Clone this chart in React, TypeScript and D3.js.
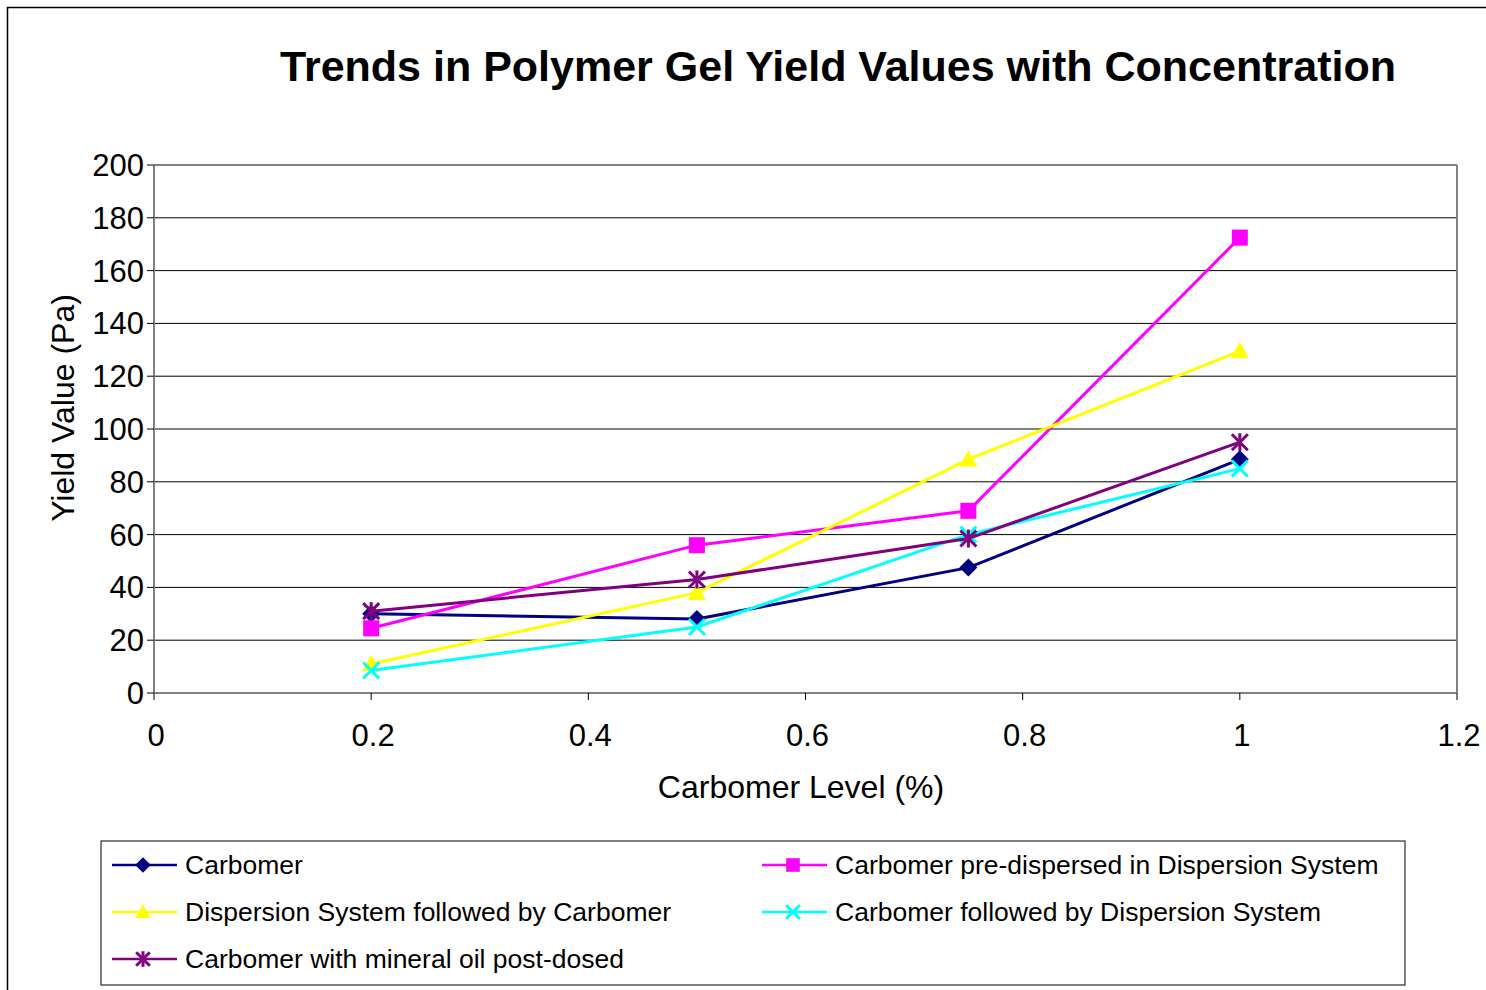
import React from "react";
import * as d3 from "d3";

const xLevels = [0.2, 0.5, 0.75, 1.0];
const carbomer = [30, 28, 47.5, 88.5];
const preDispersed = [24.5, 56, 69, 172.5];
const dispersionThenCarbomer = [11, 38, 88.5, 129.5];
const carbomerThenDispersion = [8.5, 25, 60, 85];
const mineralOil = [31, 43, 58.5, 95];

const xTicks = [0, 0.2, 0.4, 0.6, 0.8, 1, 1.2];
const yTicks = [0, 20, 40, 60, 80, 100, 120, 140, 160, 180, 200];

const seriesNames = [
  "Carbomer",
  "Carbomer pre-dispersed in Dispersion System",
  "Dispersion System followed by Carbomer",
  "Carbomer followed by Dispersion System",
  "Carbomer with mineral oil post-dosed",
];
const seriesValues = [carbomer, preDispersed, dispersionThenCarbomer, carbomerThenDispersion, mineralOil];
const seriesColors = ["#000080", "#FF00FF", "#FFFF00", "#00FFFF", "#800080"];
const seriesMarkers = ["diamond", "square", "triangle", "x", "star"];

const FONT = "Liberation Sans, Arial, Helvetica, sans-serif";

function Marker({ type, x, y, color, s = 1 }: { type: string; x: number; y: number; color: string; s?: number }) {
  const r = 8 * s;
  if (type === "diamond") {
    return <path d={`M${x},${y - r - 1} L${x + r + 1},${y} L${x},${y + r + 1} L${x - r - 1},${y} Z`} fill={color} />;
  }
  if (type === "square") {
    return <rect x={x - r} y={y - r} width={2 * r} height={2 * r} fill={color} />;
  }
  if (type === "triangle") {
    const h = 9 * s;
    return <path d={`M${x},${y - h} L${x + h},${y + h * 0.8} L${x - h},${y + h * 0.8} Z`} fill={color} />;
  }
  if (type === "x") {
    return (
      <g stroke={color} strokeWidth={3}>
        <line x1={x - r} y1={y - r} x2={x + r} y2={y + r} />
        <line x1={x - r} y1={y + r} x2={x + r} y2={y - r} />
      </g>
    );
  }
  return (
    <g stroke={color} strokeWidth={3}>
      <line x1={x - r} y1={y - r} x2={x + r} y2={y + r} />
      <line x1={x - r} y1={y + r} x2={x + r} y2={y - r} />
      <line x1={x} y1={y - r - 1} x2={x} y2={y + r + 1} />
    </g>
  );
}

export default function App() {
  const W = 1486;
  const H = 990;
  const left = 154;
  const right = 1457;
  const top = 165;
  const bottom = 693;
  const x = d3.scaleLinear().domain([0, 1.2]).range([left, right]);
  const y = d3.scaleLinear().domain([0, 200]).range([bottom, top]);
  const line = d3
    .line<number>()
    .x((_, i) => x(xLevels[i]))
    .y((d) => y(d));

  const legendItems = [
    { i: 0, lx: 112, ly: 865 },
    { i: 1, lx: 762, ly: 865 },
    { i: 2, lx: 112, ly: 912 },
    { i: 3, lx: 762, ly: 912 },
    { i: 4, lx: 112, ly: 959 },
  ];

  return (
    <svg width={W} height={H} style={{ position: "absolute", left: 0, top: 0, background: "#fff" }} fontFamily={FONT}>
      <rect x={7.5} y={7.5} width={W + 20} height={H + 20} fill="#fff" stroke="#000" strokeWidth={1.5} />
      <text x={838} y={81} textAnchor="middle" fontSize={43} fontWeight="bold" fill="#000">
        Trends in Polymer Gel Yield Values with Concentration
      </text>

      {yTicks.map((t) => (
        <line key={t} x1={left} x2={right} y1={y(t)} y2={y(t)} stroke={t === 0 ? "#808080" : "#000"} strokeWidth={t === 0 ? 2 : 1} />
      ))}
      <line x1={left} x2={right} y1={top} y2={top} stroke="#808080" strokeWidth={2} />
      <line x1={right} x2={right} y1={top} y2={bottom} stroke="#808080" strokeWidth={2} />
      <line x1={left} x2={left} y1={top} y2={bottom} stroke="#808080" strokeWidth={2} />

      {yTicks.map((t) => (
        <g key={t}>
          <line x1={left - 7} x2={left} y1={y(t)} y2={y(t)} stroke="#000" strokeWidth={1} />
          <text x={left - 10} y={y(t) + 11} textAnchor="end" fontSize={31} fill="#000">
            {t}
          </text>
        </g>
      ))}
      {xTicks.map((t) => (
        <g key={t}>
          <line x1={x(t)} x2={x(t)} y1={bottom} y2={bottom + 7} stroke="#000" strokeWidth={1} />
          <text x={x(t) + 2} y={bottom + 53} textAnchor="middle" fontSize={31} fill="#000">
            {t}
          </text>
        </g>
      ))}

      <text transform={`translate(74,408) rotate(-90)`} textAnchor="middle" fontSize={32} fill="#000">
        Yield Value (Pa)
      </text>
      <text x={801} y={798} textAnchor="middle" fontSize={32} fill="#000">
        Carbomer Level (%)
      </text>

      {seriesValues.map((vals, si) => (
        <g key={si}>
          <path d={line(vals) || ""} fill="none" stroke={seriesColors[si]} strokeWidth={3} />
          {vals.map((v, i) => (
            <Marker key={i} type={seriesMarkers[si]} x={x(xLevels[i])} y={y(v)} color={seriesColors[si]} />
          ))}
        </g>
      ))}

      <rect x={101} y={841} width={1304} height={144} fill="#fff" stroke="#000" strokeWidth={1} />
      {legendItems.map(({ i, lx, ly }) => (
        <g key={i}>
          <line x1={lx} x2={lx + 65} y1={ly} y2={ly} stroke={seriesColors[i]} strokeWidth={2.5} />
          <Marker type={seriesMarkers[i]} x={lx + 31} y={ly} color={seriesColors[i]} s={0.85} />
          <text x={lx + 73} y={ly + 9} fontSize={26.5} fill="#000">
            {seriesNames[i]}
          </text>
        </g>
      ))}
    </svg>
  );
}
